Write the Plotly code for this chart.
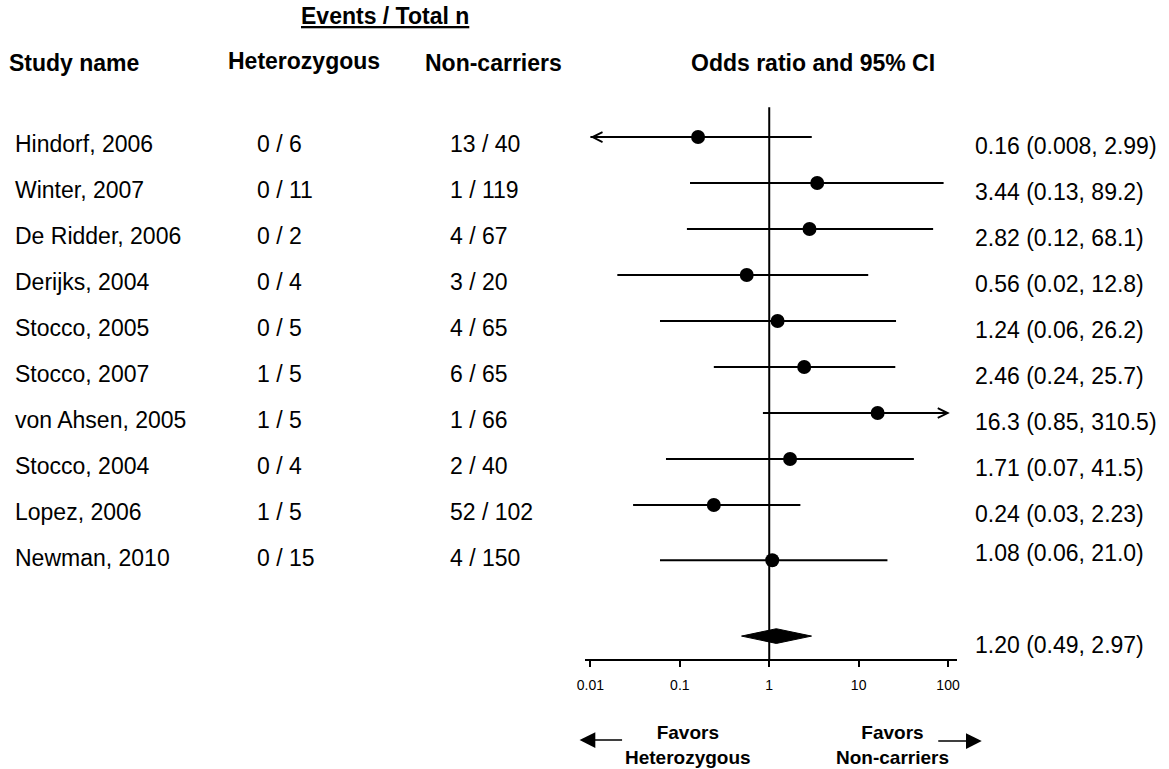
import math
import plotly.graph_objects as go

# ---------------- data ----------------
studies = ["Hindorf, 2006", "Winter, 2007", "De Ridder, 2006", "Derijks, 2004",
           "Stocco, 2005", "Stocco, 2007", "von Ahsen, 2005", "Stocco, 2004",
           "Lopez, 2006", "Newman, 2010"]
het_events = [0, 0, 0, 0, 0, 1, 1, 0, 1, 0]
het_total = [6, 11, 2, 4, 5, 5, 5, 4, 5, 15]
non_events = [13, 1, 4, 3, 4, 6, 1, 2, 52, 4]
non_total = [40, 119, 67, 20, 65, 65, 66, 40, 102, 150]
odds_ratio = [0.16, 3.44, 2.82, 0.56, 1.24, 2.46, 16.3, 1.71, 0.24, 1.08]
ci_low = [0.008, 0.13, 0.12, 0.02, 0.06, 0.24, 0.85, 0.07, 0.03, 0.06]
ci_high = [2.99, 89.2, 68.1, 12.8, 26.2, 25.7, 310.5, 41.5, 2.23, 21.0]
pooled_or = 1.20
pooled_low = 0.49
pooled_high = 2.97
tick_values = [0.01, 0.1, 1, 10, 100]
tick_labels = ["0.01", "0.1", "1", "10", "100"]

# ---------------- layout helpers ----------------
W, H = 1169, 769
FONT = "Liberation Sans, Arial, Helvetica, sans-serif"
row_pos = [0, 1, 2, 3, 4, 5, 6, 7, 8, 9.2]
pooled_row = 10.85
x_min, x_max = 0.01, 100
y_range = [13.74, -2.98]


def px(xpix):
    return xpix / W


fig = go.Figure()

# vertical reference line at OR = 1
fig.add_trace(go.Scatter(x=[1, 1], y=[-0.65, 11.37], mode="lines",
                         line=dict(color="black", width=2), hoverinfo="skip"))

# CI lines
for i in range(len(studies)):
    lo = max(ci_low[i], x_min)
    hi = min(ci_high[i], x_max)
    fig.add_trace(go.Scatter(x=[lo, hi], y=[row_pos[i], row_pos[i]], mode="lines",
                             line=dict(color="black", width=2), hoverinfo="skip"))
    if ci_low[i] < x_min:
        fig.add_annotation(x=math.log10(x_min), y=row_pos[i], ax=math.log10(odds_ratio[i]),
                           ay=row_pos[i], xref="x", yref="y", axref="x", ayref="y",
                           text="", showarrow=True, arrowhead=5, arrowsize=1.3,
                           arrowwidth=1.5, arrowcolor="black", standoff=0)
    if ci_high[i] > x_max:
        fig.add_annotation(x=math.log10(x_max) + 0.02, y=row_pos[i], ax=math.log10(odds_ratio[i]),
                           ay=row_pos[i], xref="x", yref="y", axref="x", ayref="y",
                           text="", showarrow=True, arrowhead=5, arrowsize=1.3,
                           arrowwidth=1.5, arrowcolor="black", standoff=0)

# point estimates
fig.add_trace(go.Scatter(x=odds_ratio, y=row_pos, mode="markers",
                         marker=dict(symbol="circle", size=14, color="black"),
                         hoverinfo="skip"))

# pooled diamond
dh = 0.16
fig.add_trace(go.Scatter(x=[pooled_low, pooled_or, pooled_high, pooled_or, pooled_low],
                         y=[pooled_row, pooled_row - dh, pooled_row, pooled_row + dh, pooled_row],
                         mode="lines", fill="toself", fillcolor="black",
                         line=dict(color="black", width=1), hoverinfo="skip"))

# ---------------- text columns ----------------
def txt(x, y, s, size=23, bold=False, anchor="left", yref="y", underline=False):
    f = dict(family=FONT, size=size, color="black")
    if underline:
        f["lineposition"] = "under"
    fig.add_annotation(x=x, y=y, xref="paper", yref=yref,
                       text=f"<b>{s}</b>" if bold else s,
                       showarrow=False, xanchor=anchor, yanchor="middle",
                       font=f, align="center", borderpad=0)


for i in range(len(studies)):
    off_l = 0.15 if i < 9 else -0.05
    off_r = 0.19 if i < 9 else -0.15
    txt(px(6), row_pos[i] + off_l, studies[i])
    txt(px(250), row_pos[i] + off_l, f"{het_events[i]} / {het_total[i]}")
    txt(px(445), row_pos[i] + off_l, f"{non_events[i]} / {non_total[i]}")
    txt(px(975), row_pos[i] + off_r, f"{odds_ratio[i]} ({ci_low[i]}, {ci_high[i]})")

txt(px(975), pooled_row + 0.19, f"{pooled_or:.2f} ({pooled_low:.2f}, {pooled_high:.2f})")

# headers
txt(px(0), -1.61, "Study name", bold=True)
txt(px(299), -1.65, "Heterozygous", bold=True, anchor="center")
txt(px(490), -1.61, "Non-carriers", bold=True, anchor="center")
txt(px(813), -1.61, "Odds ratio and 95% CI", bold=True, anchor="center")
txt(px(381), -2.63, "Events / Total n", bold=True, anchor="center", underline=True)

# bottom favour labels
txt(px(686), 1 - 745 / H, "Favors<br>Heterozygous", size=19, bold=True,
    anchor="center", yref="paper")
txt(px(893), 1 - 745 / H, "Favors<br>Non-carriers", size=19, bold=True,
    anchor="center", yref="paper")
fig.add_annotation(x=px(577), y=1 - 740 / H, ax=44, ay=0,
                   xref="paper", yref="paper", axref="pixel", ayref="pixel",
                   text="", showarrow=True, arrowhead=2, arrowsize=2.1,
                   arrowwidth=1.5, arrowcolor="black", standoff=0)
fig.add_annotation(x=px(983), y=1 - 741 / H, ax=-45, ay=0,
                   xref="paper", yref="paper", axref="pixel", ayref="pixel",
                   text="", showarrow=True, arrowhead=2, arrowsize=2.1,
                   arrowwidth=1.5, arrowcolor="black", standoff=0)

fig.update_layout(
    width=W, height=H, margin=dict(l=0, r=0, t=0, b=0),
    paper_bgcolor="white", plot_bgcolor="white", showlegend=False,
    xaxis=dict(type="log", range=[-2.066, 2.1], domain=[px(582), px(958)],
               anchor="free", position=1 - 660 / H,
               showline=True, linecolor="black", linewidth=2,
               ticks="outside", ticklen=6, tickwidth=2, tickcolor="black",
               tickvals=tick_values, ticktext=tick_labels,
               tickfont=dict(family=FONT, size=14, color="black"),
               ticklabelstandoff=6,
               showgrid=False, zeroline=False, fixedrange=True),
    yaxis=dict(range=y_range, domain=[0, 1], visible=False, showgrid=False,
               zeroline=False, fixedrange=True),
)

fig.write_html("out.html", config={"displayModeBar": False},
               post_script="document.body.style.margin='0px';")
